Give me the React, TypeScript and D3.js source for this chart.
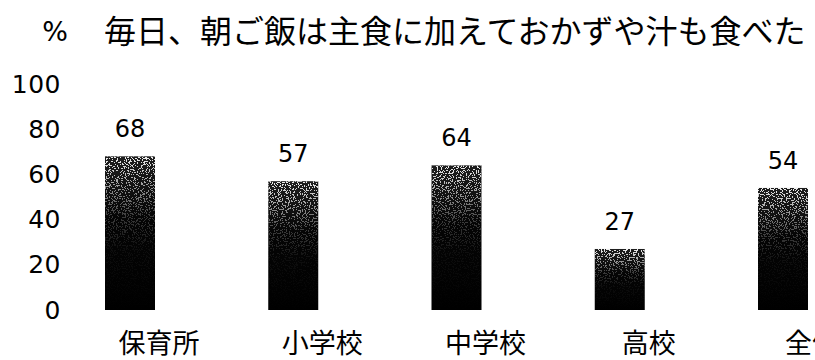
import React from "react";
import * as d3 from "d3";

const categories = ["保育所", "小学校", "中学校", "高校", "全体"];
const values = [68, 57, 64, 27, 54];
const yTicks = [0, 20, 40, 60, 80, 100];
const titleText = "毎日、朝ご飯は主食に加えておかずや汁も食べた";
const unitText = "%";

export default function App() {
  const W = 815;
  const H = 360;
  const x = d3.scalePoint<string>().domain(categories).range([130, 783]);
  const y = d3.scaleLinear().domain([0, 100]).range([310, 84]);
  const barW = 50;
  const cjk = "'Noto Sans CJK JP', sans-serif";
  const num = "'DejaVu Sans', sans-serif";

  return (
    <svg
      width={W}
      height={H}
      viewBox={`0 0 ${W} ${H}`}
      style={{ position: "fixed", left: 0, top: 0, background: "#fff" }}
    >
      <defs>
        <linearGradient id="barGrad" x1="0" y1="1" x2="0" y2="0">
          <stop offset="0%" stopColor="#000" />
          <stop offset="60%" stopColor="#050505" />
          <stop offset="100%" stopColor="#1e1e1e" />
        </linearGradient>
        <linearGradient id="maskGrad" x1="0" y1="1" x2="0" y2="0">
          <stop offset="0%" stopColor="#000" />
          <stop offset="40%" stopColor="#0c0c0c" />
          <stop offset="62%" stopColor="#3a3a3a" />
          <stop offset="82%" stopColor="#999" />
          <stop offset="100%" stopColor="#eee" />
        </linearGradient>
        <filter id="speck" x="0" y="0" width="100%" height="100%">
          <feTurbulence type="fractalNoise" baseFrequency="0.75" numOctaves="2" seed="7" result="n" />
          <feColorMatrix
            in="n"
            type="matrix"
            values="0 0 0 0 1  0 0 0 0 1  0 0 0 0 1  1 0 0 0 0"
            result="a"
          />
          <feComponentTransfer in="a" result="t">
            <feFuncA type="discrete" tableValues="0 0 0 0 1 1 1" />
          </feComponentTransfer>
          <feComposite in="t" in2="SourceGraphic" operator="in" />
        </filter>
        {categories.map((c, i) => {
          const cx = x(c) as number;
          const top = y(values[i]);
          return (
            <mask id={`m${i}`} key={c}>
              <rect x={cx - barW / 2} y={top} width={barW} height={y(0) - top} fill="url(#maskGrad)" />
            </mask>
          );
        })}
      </defs>

      <text x={55} y={31} fontFamily={num} fontSize={27} textAnchor="middle" dominantBaseline="central">
        {unitText}
      </text>
      <text x={104} y={29} fontFamily={cjk} fontSize={32} dominantBaseline="central">
        {titleText}
      </text>

      {yTicks.map((t) => (
        <text
          key={t}
          x={61}
          y={y(t)}
          fontFamily={num}
          fontSize={25}
          letterSpacing={0.5}
          textAnchor="end"
          dominantBaseline="central"
        >
          {t}
        </text>
      ))}

      {categories.map((c, i) => {
        const cx = x(c) as number;
        const top = y(values[i]);
        return (
          <g key={c}>
            <rect
              x={cx - barW / 2}
              y={top}
              width={barW}
              height={y(0) - top}
              fill="url(#barGrad)"
            />
            <g mask={`url(#m${i})`}>
              <rect
                x={cx - barW / 2}
                y={top}
                width={barW}
                height={y(0) - top}
                fill="#fff"
                filter="url(#speck)"
              />
            </g>
            <text
              x={cx}
              y={top - 27}
              fontFamily={num}
              fontSize={24}
              textAnchor="middle"
              dominantBaseline="central"
            >
              {values[i]}
            </text>
            <text
              x={cx + 29}
              y={341}
              fontFamily={cjk}
              fontSize={27}
              textAnchor="middle"
              dominantBaseline="central"
            >
              {c}
            </text>
          </g>
        );
      })}
    </svg>
  );
}
